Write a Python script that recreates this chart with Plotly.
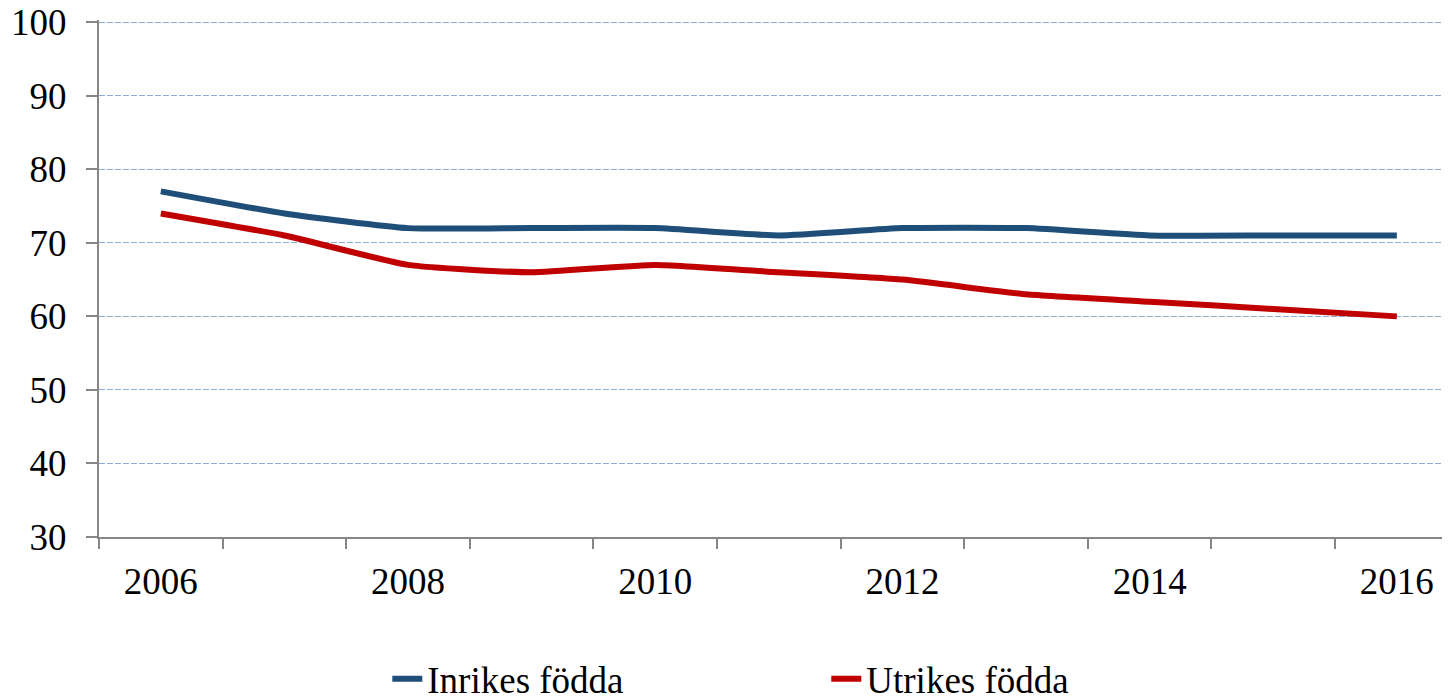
import plotly.graph_objects as go

years = [2006, 2007, 2008, 2009, 2010, 2011, 2012, 2013, 2014, 2015, 2016]
inrikes = [77, 74, 72, 72, 72, 71, 72, 72, 71, 71, 71]
utrikes = [74, 71, 67, 66, 67, 66, 65, 63, 62, 61, 60]
xtick_years = [2006, 2008, 2010, 2012, 2014, 2016]
ytick_vals = [30, 40, 50, 60, 70, 80, 90, 100]

FONT = "Liberation Serif, Times New Roman, serif"

fig = go.Figure()
fig.add_trace(go.Scatter(x=years, y=inrikes, name="Inrikes födda", mode="lines",
                         line=dict(color="#1F4E79", width=6, shape="spline", smoothing=0.5)))
fig.add_trace(go.Scatter(x=years, y=utrikes, name="Utrikes födda", mode="lines",
                         line=dict(color="#C00000", width=6, shape="spline", smoothing=0.5)))

fig.update_layout(
    width=1442, height=692,
    margin=dict(l=91, r=0, t=12, b=163, autoexpand=False),
    paper_bgcolor="white", plot_bgcolor="white",
    font=dict(family=FONT, size=37, color="black"),
    showlegend=True,
    legend=dict(orientation="h", x=0.2134, xanchor="left", y=-0.275, yanchor="middle",
                font=dict(family=FONT, size=37, color="black"),
                entrywidth=394, entrywidthmode="pixels", itemwidth=30,
                bgcolor="rgba(0,0,0,0)"),
)
fig.update_xaxes(
    range=[2005.5, 2016.43], tickvals=xtick_years, ticktext=[str(y) for y in xtick_years],
    ticks="", showgrid=False, zeroline=False, automargin=False,
    showline=True, linecolor="#868686", linewidth=2,
    minor=dict(tick0=2005.5, dtick=1, ticks="outside", ticklen=10, tickcolor="#868686",
               tickwidth=2, showgrid=False),
    ticklabelstandoff=11, ticklabeloverflow="allow",
)
fig.update_yaxes(
    range=[30, 100.3], tickvals=ytick_vals, ticks="outside", ticklen=11,
    tickcolor="#868686", tickwidth=2, automargin=False,
    showline=True, linecolor="#868686", linewidth=2,
    showgrid=True, gridcolor="#8AABD6", gridwidth=1.3, griddash="6px,2px",
    zeroline=False, ticklabelstandoff=12, ticklabeloverflow="allow",
)

fig.write_html("out.html")
